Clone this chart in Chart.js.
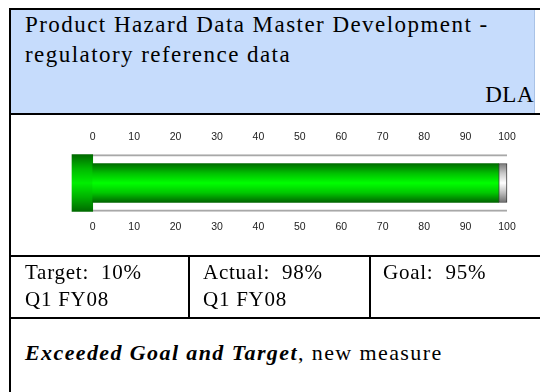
<!DOCTYPE html>
<html>
<head>
<meta charset="utf-8">
<script src="https://cdn.jsdelivr.net/npm/chart.js@4.4.1/dist/chart.umd.min.js"></script>
<style>
  body { margin: 0; width: 540px; height: 392px; overflow: hidden; position: relative; background: #fff;
         font-family: "Liberation Serif", "Times New Roman", serif; color: #000; }
  .abs { position: absolute; white-space: pre; }
  #frame { position: absolute; left: 9px; top: 8px; width: 540px; height: 400px;
           border-left: 2px solid #000; border-top: 2px solid #000; }
  #head { position: absolute; left: 11px; top: 10px; width: 523px; height: 103px;
          background: #c6dcfc; border-right: 1px solid #a9c2e6; }
  .hline { position: absolute; left: 11px; width: 529px; height: 2px; background: #000; }
  .vline { position: absolute; top: 256px; width: 2px; height: 62px; background: #000; }
  .title { font-size: 23px; letter-spacing: 1.45px; line-height: 30px; }
  .cell { font-size: 21px; letter-spacing: 0.75px; line-height: 27px; }
  .note { font-size: 22px; letter-spacing: 1.4px; line-height: 30px; }
  #gauge { position: absolute; left: 11px; top: 114px; width: 524px; height: 142px; }
</style>
</head>
<body>
<div id="frame"></div>
<div id="head"></div>
<div class="abs title" style="left:25px;top:10px;">Product Hazard Data Master Development -</div>
<div class="abs title" style="left:25px;top:40px;">regulatory reference data</div>
<div class="abs title" style="right:6px;top:80px;letter-spacing:0.5px;">DLA</div>
<div class="hline" style="top:113px;"></div>

<div id="gauge"><canvas id="chart"></canvas></div>

<div class="hline" style="top:255px;"></div>
<div class="vline" style="left:188px;"></div>
<div class="vline" style="left:369px;"></div>
<div class="abs cell" style="left:25px;top:259px;">Target:  10%
Q1 FY08</div>
<div class="abs cell" style="left:203px;top:259px;">Actual:  98%
Q1 FY08</div>
<div class="abs cell" style="left:383px;top:259px;">Goal:  95%</div>
<div class="hline" style="top:317px;"></div>

<div class="abs note" style="left:25px;top:338px;"><b><i>Exceeded Goal and Target</i></b>, new measure</div>

<script>
// --------------------
// Data
// --------------------
const categories = ['Actual'];
const actualValues = [98];
const scaleMin = -5;      // room for the gauge's left end cap
const scaleMax = 100;
const tickValues = [0, 10, 20, 30, 40, 50, 60, 70, 80, 90, 100];

// --------------------
// Helper: vertical gradient across a bar of given thickness
// --------------------
function vGrad(stops, thick) {
  return (c) => {
    const chart = c.chart;
    const y = chart.scales && chart.scales.y;
    if (!y || !chart.chartArea) return stops[Math.floor(stops.length / 2)];
    const cy = y.getPixelForValue(0);
    const g = chart.ctx.createLinearGradient(0, cy - thick / 2, 0, cy + thick / 2);
    stops.forEach((s, i) => g.addColorStop(i / (stops.length - 1), s));
    return g;
  };
}

const trackThick = 57;
const barThick = 39;

const greenStops = ['#006b00', '#00c000', '#00ff00', '#00c800', '#006400'];
const capStops = ['#006800', '#00b800', '#00ee00', '#00b000', '#006a00'];
const grayStops = ['#7a7a7a', '#c8c8c8', '#ffffff', '#bdbdbd', '#6e6e6e'];

// axis heights are fixed so the gauge sits where it should
const tickAxis = (position, height, pad) => ({
  type: 'linear',
  position,
  min: scaleMin,
  max: scaleMax,
  grid: { display: false, drawTicks: false },
  border: { display: false },
  afterBuildTicks: (axis) => { axis.ticks = tickValues.map(v => ({ value: v })); },
  afterFit: (axis) => { axis.height = height; },
  ticks: {
    padding: pad,
    color: '#222',
    font: { family: 'Liberation Sans, Arial, sans-serif', size: 10.5 },
    maxRotation: 0,
    autoSkip: false
  }
});

new Chart(document.getElementById('chart'), {
  type: 'bar',
  data: {
    labels: categories,
    datasets: [
      {
        // gray remainder up to full scale
        data: actualValues.map(v => [v, scaleMax]),
        xAxisID: 'x',
        grouped: false,
        order: 1,
        clip: false,
        barThickness: barThick,
        backgroundColor: vGrad(grayStops, barThick),
        borderColor: '#3c3c3c',
        borderWidth: 1,
        borderSkipped: false
      },
      {
        // actual value
        data: actualValues.map(v => [0, v]),
        xAxisID: 'x',
        grouped: false,
        order: 2,
        clip: false,
        barThickness: barThick,
        backgroundColor: vGrad(greenStops, barThick),
        borderWidth: 0
      },
      {
        // left end cap of the gauge
        data: actualValues.map(() => [scaleMin, 0]),
        xAxisID: 'x',
        grouped: false,
        order: 3,
        clip: false,
        barThickness: trackThick,
        backgroundColor: vGrad(capStops, trackThick),
        borderWidth: 0
      },
      {
        // track outline
        data: actualValues.map(() => [0, scaleMax]),
        xAxisID: 'x',
        grouped: false,
        order: 4,
        clip: false,
        barThickness: trackThick,
        backgroundColor: 'rgba(0,0,0,0)',
        borderColor: '#a8a8a8',
        borderWidth: { top: 1.5, bottom: 1.5, left: 0, right: 0 },
        borderSkipped: false
      }
    ]
  },
  options: {
    indexAxis: 'y',
    responsive: true,
    maintainAspectRatio: false,
    animation: false,
    layout: { padding: { left: 61, right: 28, top: 0, bottom: 0 } },
    plugins: { legend: { display: false }, tooltip: { enabled: false } },
    scales: {
      x: tickAxis('bottom', 43, 7.7),
      xTop: tickAxis('top', 39, 9.7),
      y: { display: false }
    }
  }
});
</script>
</body>
</html>
